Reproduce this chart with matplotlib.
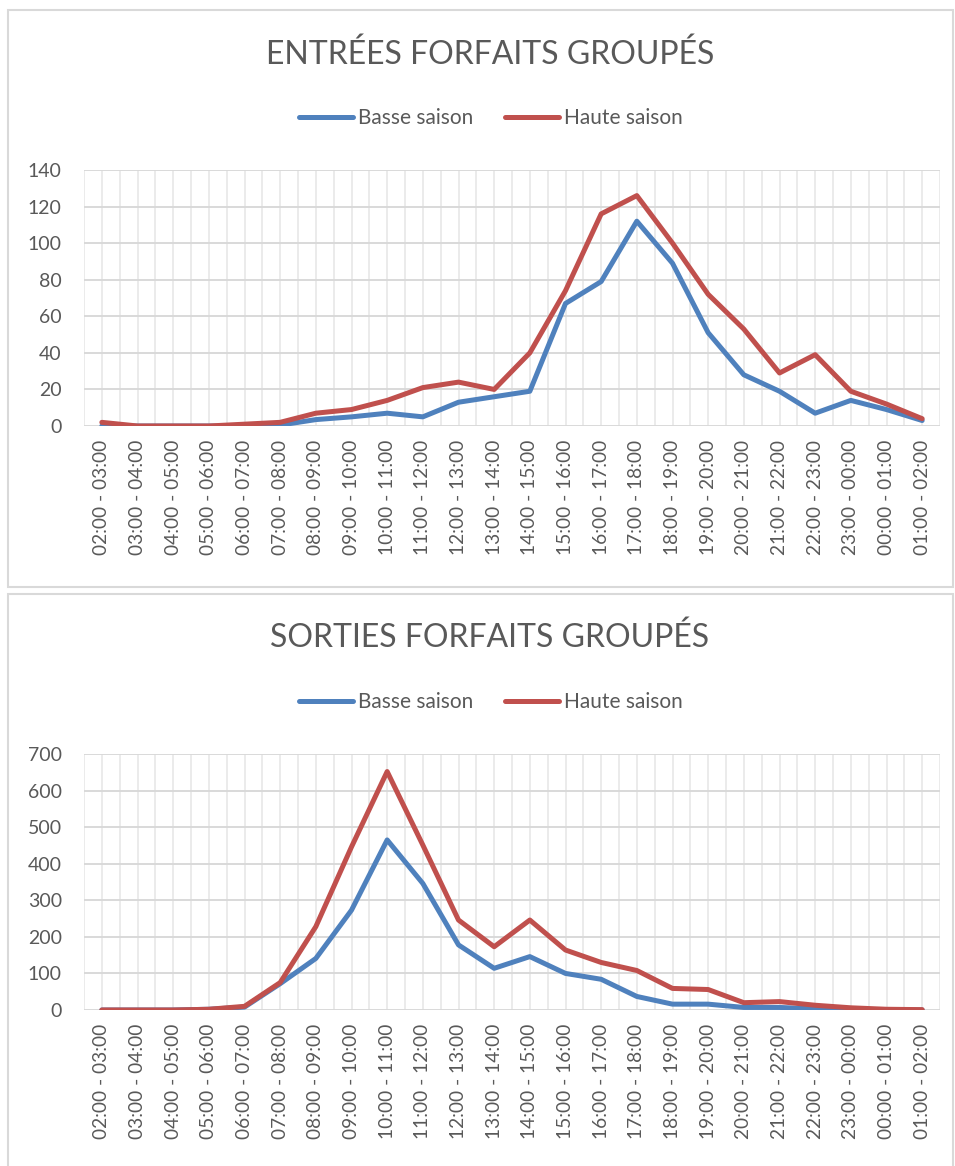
import matplotlib
matplotlib.use("Agg")
import matplotlib.pyplot as plt
from matplotlib.patches import Rectangle
from matplotlib.lines import Line2D

plt.rcParams['font.family'] = ['Lato', 'DejaVu Sans']

hours = ["02:00 - 03:00", "03:00 - 04:00", "04:00 - 05:00", "05:00 - 06:00",
         "06:00 - 07:00", "07:00 - 08:00", "08:00 - 09:00", "09:00 - 10:00",
         "10:00 - 11:00", "11:00 - 12:00", "12:00 - 13:00", "13:00 - 14:00",
         "14:00 - 15:00", "15:00 - 16:00", "16:00 - 17:00", "17:00 - 18:00",
         "18:00 - 19:00", "19:00 - 20:00", "20:00 - 21:00", "21:00 - 22:00",
         "22:00 - 23:00", "23:00 - 00:00", "00:00 - 01:00", "01:00 - 02:00"]

entrees_basse = [0, 0, 0, 0, 0, 0.5, 3.5, 5, 7, 5, 13, 16,
                 19, 67, 79, 112, 89, 51, 28, 19, 7, 14, 9, 3]
entrees_haute = [2, 0, 0, 0, 1, 2, 7, 9, 14, 21, 24, 20,
                 40, 74, 116, 126, 100, 72, 53, 29, 39, 19, 12, 4]

sorties_basse = [0, 0, 0, 2, 8, 72, 141, 273, 465, 346, 178, 114,
                 146, 100, 84, 37, 16, 16, 7, 7, 3, 1, 0, 0]
sorties_haute = [0, 0, 0, 2, 10, 75, 228, 446, 652, 451, 246, 173,
                 246, 164, 130, 108, 59, 56, 20, 23, 13, 6, 2, 1]

series_names = ["Basse saison", "Haute saison"]
colors = ["#4F81BD", "#C0504D"]
titles = ["ENTRÉES FORFAITS GROUPÉS", "SORTIES FORFAITS GROUPÉS"]
y_max = [140, 700]
y_step = [20, 100]

W, H = 955, 1166
fig = plt.figure(figsize=(W / 100, H / 100), dpi=100)

def fx(px):
    return px / W

def fy(py):
    return 1 - py / H

# panel borders
for (top, bottom) in [(10, 587), (594, 1175)]:
    fig.patches.append(Rectangle((fx(8), fy(bottom)), fx(953) - fx(8), fy(top) - fy(bottom),
                                 transform=fig.transFigure, fill=False,
                                 edgecolor="#D9D9D9", linewidth=1.5, zorder=0))

panels = [
    dict(data=(entrees_basse, entrees_haute), top=170, bottom=426, title_y=55, leg_y=118),
    dict(data=(sorties_basse, sorties_haute), top=754, bottom=1010, title_y=638, leg_y=702),
]

text_color = "#595959"
x = list(range(len(hours)))
lw = 3.6

for k, p in enumerate(panels):
    ax = fig.add_axes([fx(84), fy(p['bottom']), fx(940) - fx(84), fy(p['top']) - fy(p['bottom'])])
    for s, (vals, name, c) in enumerate(zip(p['data'], series_names, colors)):
        ax.plot(x, vals, color=c, linewidth=lw, solid_capstyle='round',
                solid_joinstyle='round', label=name, zorder=3 + s)
    ax.set_xlim(-0.5, len(hours) - 0.5)
    ax.set_ylim(0, y_max[k])
    ax.set_yticks(range(0, y_max[k] + 1, y_step[k]))
    ax.set_xticks(x)
    ax.set_xticks([i - 0.5 for i in range(len(hours) + 1)], minor=True)
    ax.set_xticklabels(hours, rotation=90, fontsize=13.8, color=text_color)
    ax.tick_params(axis='y', labelsize=14, labelcolor=text_color, length=0, pad=16)
    ax.tick_params(axis='x', which='both', length=0, pad=10)
    for sp in ax.spines.values():
        sp.set_visible(False)
    ax.grid(axis='y', color="#D9D9D9", linewidth=1.4, zorder=1)
    ax.grid(axis='x', which='both', color="#E8E8E8", linewidth=1.2, zorder=0)
    ax.set_axisbelow(True)

    fig.text(fx(490), fy(p['title_y']), titles[k], ha='center', va='center',
             fontsize=23, color=text_color)
    handles = [Line2D([], [], color=c, linewidth=lw, solid_capstyle='round') for c in colors]
    fig.legend(handles, series_names, loc='center', bbox_to_anchor=(fx(491), fy(p['leg_y'])),
               ncol=2, frameon=False, fontsize=15, handlelength=2.6, handletextpad=0.25,
               columnspacing=1.5, labelcolor=text_color, borderaxespad=0, borderpad=0)

fig.savefig("out.png", dpi=100)
